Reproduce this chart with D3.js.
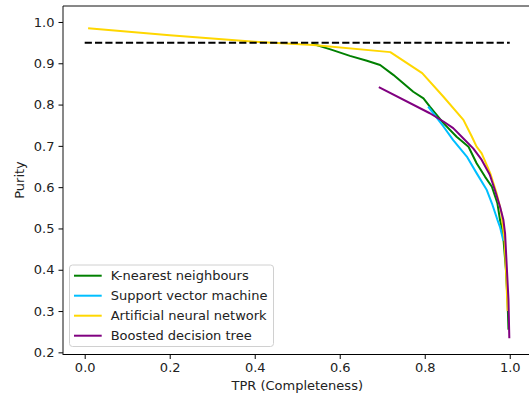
<!DOCTYPE html>
<html><head><meta charset="utf-8">
<script src="https://cdn.jsdelivr.net/npm/d3@7"></script>
<style>
html,body{margin:0;padding:0;background:#fff;}
svg{display:block;font-family:"DejaVu Sans",sans-serif;}
</style></head>
<body><svg id="c" width="529" height="401"></svg>
<script>
const seriesNames = ["K-nearest neighbours","Support vector machine","Artificial neural network","Boosted decision tree"];
const seriesColors = ["#008000","#00bfff","#ffd700","#800080"];
const knnTPR = [0.534,0.58,0.624,0.664,0.695,0.726,0.773,0.797,0.812,0.844,0.875,0.903,0.922,0.942,0.958,0.971,0.977,0.984,0.991,0.995,0.997];
const knnPur = [0.948,0.933,0.918,0.906,0.896,0.872,0.831,0.815,0.795,0.755,0.722,0.698,0.658,0.625,0.601,0.561,0.521,0.49,0.40,0.32,0.255];
const svmTPR = [0.808,0.844,0.867,0.899,0.922,0.946,0.958,0.971,0.977,0.985];
const svmPur = [0.795,0.747,0.714,0.674,0.634,0.593,0.561,0.521,0.504,0.47];
const annTPR = [0.008,0.2,0.4,0.538,0.719,0.794,0.844,0.891,0.911,0.922,0.934,0.954,0.969,0.980,0.988,0.992,0.995];
const annPur = [0.985,0.968,0.952,0.944,0.927,0.876,0.819,0.763,0.722,0.698,0.682,0.634,0.585,0.54,0.47,0.38,0.30];
const bdtTPR = [0.692,0.812,0.844,0.867,0.891,0.914,0.934,0.953,0.965,0.977,0.985,0.989,0.993,0.997,0.999];
const bdtPur = [0.842,0.779,0.759,0.743,0.718,0.694,0.666,0.630,0.593,0.553,0.521,0.488,0.408,0.327,0.234];
const targetTPR = [0,1];
const targetPur = [0.95,0.95];
const xTicks = [0.0,0.2,0.4,0.6,0.8,1.0];
const yTicks = [0.2,0.3,0.4,0.5,0.6,0.7,0.8,0.9,1.0];

const svg = d3.select("#c");
const x = d3.scaleLinear().domain([-0.05,1.05]).range([63.45,531.0]);
const y = d3.scaleLinear().domain([0.196,1.0387]).range([354,6]);
const fs = 13;

const series = [[knnTPR,knnPur],[svmTPR,svmPur],[annTPR,annPur],[bdtTPR,bdtPur]];
const line = d3.line().x(d=>x(d[0])).y(d=>y(d[1]));

series.forEach((s,i)=>{
  const pts = s[0].map((v,j)=>[v,s[1][j]]);
  svg.append("path").attr("d",line(pts)).attr("fill","none")
    .attr("stroke",seriesColors[i]).attr("stroke-width",2)
    .attr("stroke-linejoin","round").attr("stroke-linecap","butt");
});
svg.append("path").attr("d",line(targetTPR.map((v,j)=>[v,targetPur[j]])))
  .attr("fill","none").attr("stroke","#000").attr("stroke-width",2)
  .attr("stroke-dasharray","7.2,3.1");

// axes
const xAxis = d3.axisBottom(x).tickValues(xTicks).tickFormat(d3.format(".1f")).tickSize(4.5).tickPadding(4);
const gx = svg.append("g").attr("transform","translate(0,354.5)").call(xAxis);
const yAxis = d3.axisLeft(y).tickValues(yTicks).tickFormat(d3.format(".1f")).tickSize(4.5).tickPadding(4);
const gy = svg.append("g").attr("transform","translate(63,0)").call(yAxis);
[gx,gy].forEach(g=>{
  g.select(".domain").remove();
  g.selectAll("line").attr("stroke","#000").attr("stroke-width",1);
  g.selectAll("text").attr("font-family","DejaVu Sans").attr("font-size",fs).attr("fill","#222");
});
// spines
svg.append("line").attr("x1",63).attr("x2",531).attr("y1",354.5).attr("y2",354.5).attr("stroke","#000").attr("stroke-width",1);
svg.append("line").attr("x1",63).attr("x2",63).attr("y1",6).attr("y2",355).attr("stroke","#111").attr("stroke-width",1);
svg.append("line").attr("x1",63).attr("x2",531).attr("y1",6).attr("y2",6).attr("stroke","#111").attr("stroke-width",1);

svg.append("text").attr("x",x(0.5)).attr("y",390).attr("text-anchor","middle")
  .attr("font-size",fs).attr("fill","#222").text("TPR (Completeness)");
svg.append("text").attr("transform","translate(24,180) rotate(-90)").attr("text-anchor","middle")
  .attr("font-size",fs).attr("fill","#222").text("Purity");

// legend
const lg = svg.append("g");
lg.append("rect").attr("x",69.5).attr("y",265).attr("width",204).attr("height",81.5)
  .attr("rx",3).attr("fill","#fff").attr("fill-opacity",0.8).attr("stroke","#d0d0d0").attr("stroke-width",1);
seriesNames.forEach((n,i)=>{
  const yy = 275.7 + i*20;
  lg.append("line").attr("x1",74).attr("x2",101.7).attr("y1",yy).attr("y2",yy)
    .attr("stroke",seriesColors[i]).attr("stroke-width",2);
  lg.append("text").attr("x",110.7).attr("y",yy).attr("dy","0.35em")
    .attr("font-size",fs).attr("fill","#222").text(n);
});
</script></body></html>
